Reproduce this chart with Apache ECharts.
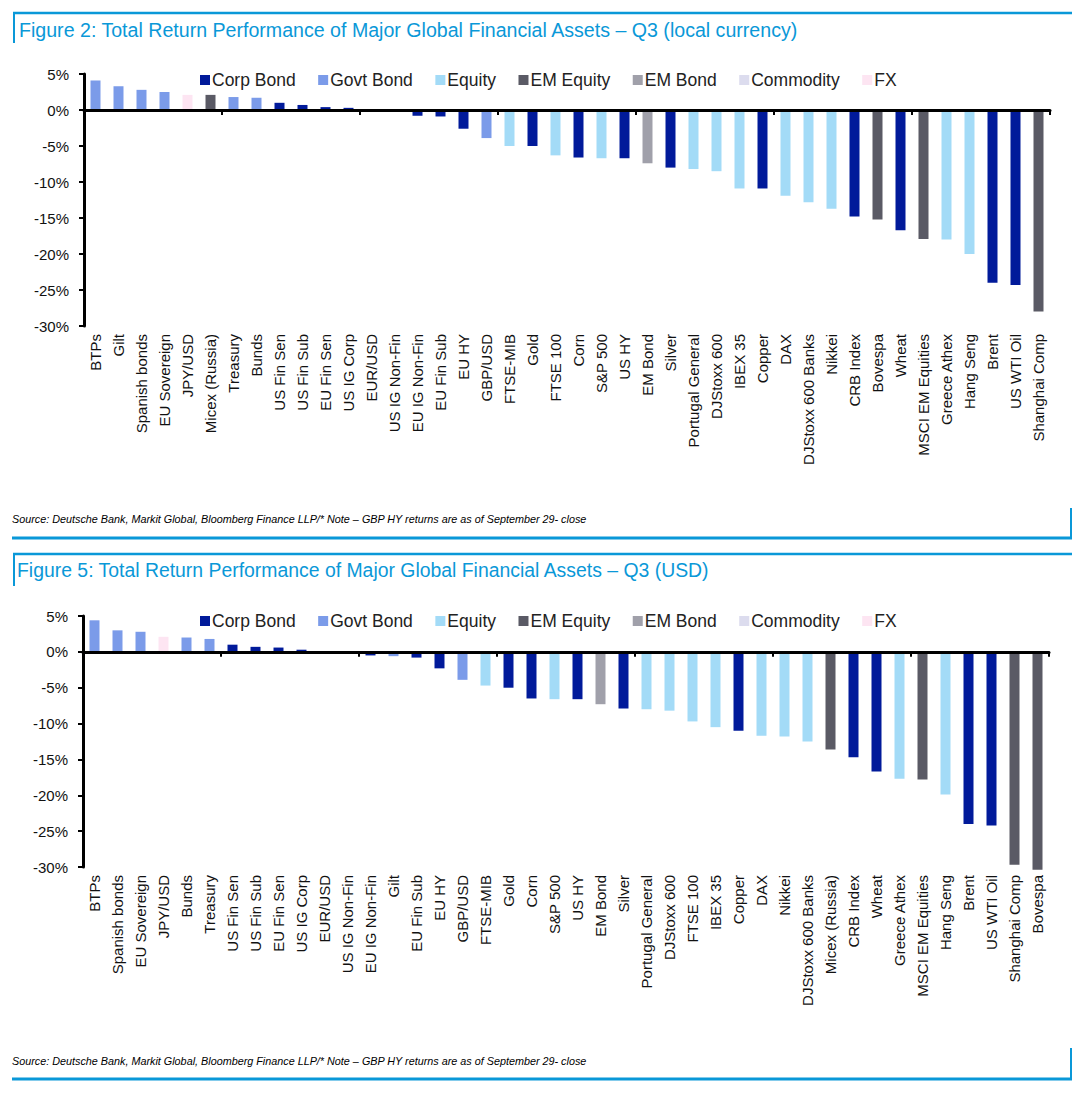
<!DOCTYPE html>
<html><head><meta charset="utf-8">
<script src="https://cdn.jsdelivr.net/npm/echarts@6/dist/echarts.min.js"></script>
<style>html,body{margin:0;padding:0;background:#fff}#c{width:1086px;height:1100px}</style>
</head><body><div id="c"></div>
<script>
// ---------- DATA ----------
const legendNames = ['Corp Bond','Govt Bond','Equity','EM Equity','EM Bond','Commodity','FX'];

const title1 = 'Figure 2: Total Return Performance of Major Global Financial Assets \u2013 Q3 (local currency)';
const title2 = 'Figure 5: Total Return Performance of Major Global Financial Assets \u2013 Q3 (USD)';
const sourceText = 'Source: Deutsche Bank, Markit Global, Bloomberg Finance LLP/* Note \u2013 GBP HY returns are as of September 29- close';

// Figure 2 (local currency)
const cats1 = ['BTPs','Gilt','Spanish bonds','EU Sovereign','JPY/USD','Micex (Russia)','Treasury','Bunds',
  'US Fin Sen','US Fin Sub','EU Fin Sen','US IG Corp','EUR/USD','US IG Non-Fin','EU IG Non-Fin','EU Fin Sub',
  'EU HY','GBP/USD','FTSE-MIB','Gold','FTSE 100','Corn','S&P 500','US HY','EM Bond','Silver',
  'Portugal General','DJStoxx 600','IBEX 35','Copper','DAX','DJStoxx 600 Banks','Nikkei','CRB Index',
  'Bovespa','Wheat','MSCI EM Equities','Greece Athex','Hang Seng','Brent','US WTI Oil','Shanghai Comp'];
const vals1 = [4.1,3.3,2.8,2.5,2.1,2.1,1.8,1.7,
  1.0,0.7,0.4,0.3,0.0,-0.1,-0.8,-0.9,
  -2.6,-3.9,-5.0,-5.0,-6.3,-6.6,-6.7,-6.7,-7.4,-8.0,
  -8.2,-8.5,-10.9,-10.9,-11.9,-12.8,-13.7,-14.8,
  -15.2,-16.7,-17.9,-18.0,-20.0,-24.0,-24.3,-28.0];
const grp1 = ['Govt Bond','Govt Bond','Govt Bond','Govt Bond','FX','EM Equity','Govt Bond','Govt Bond',
  'Corp Bond','Corp Bond','Corp Bond','Corp Bond','FX','Corp Bond','Corp Bond','Corp Bond',
  'Corp Bond','Govt Bond','Equity','Commodity','Equity','Commodity','Equity','Corp Bond','EM Bond','Commodity',
  'Equity','Equity','Equity','Commodity','Equity','Equity','Equity','Commodity',
  'EM Equity','Commodity','EM Equity','Equity','Equity','Commodity','Commodity','EM Equity'];

// Figure 5 (USD)
const cats2 = ['BTPs','Spanish bonds','EU Sovereign','JPY/USD','Bunds','Treasury','US Fin Sen','US Fin Sub',
  'EU Fin Sen','US IG Corp','EUR/USD','US IG Non-Fin','EU IG Non-Fin','Gilt','EU Fin Sub','EU HY',
  'GBP/USD','FTSE-MIB','Gold','Corn','S&P 500','US HY','EM Bond','Silver','Portugal General',
  'DJStoxx 600','FTSE 100','IBEX 35','Copper','DAX','Nikkei','DJStoxx 600 Banks','Micex (Russia)',
  'CRB Index','Wheat','Greece Athex','MSCI EM Equities','Hang Seng','Brent','US WTI Oil','Shanghai Comp','Bovespa'];
const vals2 = [4.4,3.0,2.8,2.1,2.0,1.8,1.0,0.7,
  0.6,0.3,0.0,-0.1,-0.5,-0.6,-0.8,-2.3,
  -3.9,-4.7,-5.0,-6.5,-6.6,-6.6,-7.3,-7.9,-8.0,
  -8.2,-9.7,-10.5,-11.0,-11.7,-11.8,-12.5,-13.6,
  -14.7,-16.7,-17.7,-17.8,-19.9,-24.0,-24.2,-29.7,-30.4];
const grp2 = ['Govt Bond','Govt Bond','Govt Bond','FX','Govt Bond','Govt Bond','Corp Bond','Corp Bond',
  'Corp Bond','Corp Bond','FX','Corp Bond','Corp Bond','Govt Bond','Corp Bond','Corp Bond',
  'Govt Bond','Equity','Commodity','Commodity','Equity','Corp Bond','EM Bond','Commodity','Equity',
  'Equity','Equity','Equity','Commodity','Equity','Equity','Equity','EM Equity',
  'Commodity','Commodity','Equity','EM Equity','Equity','Commodity','Commodity','EM Equity','EM Equity'];

const yMin = -30, yMax = 5, yStep = 5;

// ---------- STYLE ----------
const FONT = "'Liberation Sans', Arial, Helvetica, sans-serif";
const BLUE = '#0a98d8';
const barColor = {
  'Corp Bond':'#011a9a','Govt Bond':'#7b9be9','Equity':'#a3dbf7','EM Equity':'#5a5a65',
  'EM Bond':'#a0a0aa','Commodity':'#011a9a','FX':'#fde5f2'
};
const legendColor = {
  'Corp Bond':'#011a9a','Govt Bond':'#7b9be9','Equity':'#a3dbf7','EM Equity':'#5a5a65',
  'EM Bond':'#a0a0aa','Commodity':'#dcdcee','FX':'#fde5f2'
};

const grids = [
  {left:84, right:36, top:74, height:252},
  {left:83, right:37, top:616, height:251}
];
const legendTops = [66, 607];
const sets = [[cats1,vals1,grp1],[cats2,vals2,grp2]];

const xAxes = [], yAxes = [], series = [], legends = [];
sets.forEach(([cats, vals, grp], g) => {
  xAxes.push({
    gridIndex:g, type:'category', data:cats, position:'bottom',
    axisLine:{show:false, onZero:false}, axisTick:{show:false},
    axisLabel:{rotate:90, interval:0, fontSize:15, fontFamily:FONT, color:'#111', margin:8}
  });
  xAxes.push({
    gridIndex:g, type:'category', data:cats, position:'bottom', z:10,
    axisLine:{show:true, onZero:true, lineStyle:{color:'#000', width:3}},
    axisTick:{show:true, length:5, inside:false, lineStyle:{color:'#000', width:2}},
    axisLabel:{show:false}, splitLine:{show:false}
  });
  yAxes.push({
    gridIndex:g, type:'value', min:yMin, max:yMax, interval:yStep,
    axisLine:{show:true, lineStyle:{color:'#000', width:3}},
    axisTick:{show:true, length:5, lineStyle:{color:'#000', width:2}},
    axisLabel:{formatter:'{value}%', fontSize:15, fontFamily:FONT, color:'#111', margin:15},
    splitLine:{show:false}
  });
  legendNames.forEach(name => {
    series.push({
      name, type:'bar', xAxisIndex:g*2, yAxisIndex:g,
      data: vals.map((v,i) => grp[i] === name ? v : '-'),
      barWidth:10, barGap:'-100%', clip:false,
      itemStyle:{color:barColor[name]}, animation:false
    });
  });
  legends.push({
    left:195, top:legendTops[g], itemWidth:10, itemHeight:10, itemGap:22.5,
    icon:'rect', selectedMode:false,
    textStyle:{fontSize:17.5, fontFamily:FONT, color:'#222', padding:[0,0,0,-3]},
    data: legendNames.map(n => ({name:n, itemStyle:{color:legendColor[n]}}))
  });
});

const graphic = [];
function hline(x1,x2,y,w){graphic.push({type:'line',shape:{x1,y1:y,x2,y2:y},style:{stroke:BLUE,lineWidth:w}});}
function vline(x,y1,y2,w){graphic.push({type:'line',shape:{x1:x,y1,x2:x,y2},style:{stroke:BLUE,lineWidth:w}});}
function txt(t,x,y,size,color,style){graphic.push({type:'text',x,y,style:{text:t,fontSize:size,fontFamily:FONT,fill:color,fontStyle:style||'normal',verticalAlign:'middle'}});}
// Figure 2 frame
hline(13,1072,13,2.5); vline(14,12,43,2);
txt(title1,19,30,19.6,BLUE);
txt(sourceText,12,519,10.8,'#000','italic');
vline(1071,508,538,2); hline(12,1072,538,3);
// Figure 5 frame
hline(13,1072,554,2.5); vline(14,553,586,2);
txt(title2,17,570,19.4,BLUE);
txt(sourceText,12,1061,10.8,'#000','italic');
vline(1071,1048,1079,2); hline(12,1072,1079,3);

const chart = echarts.init(document.getElementById('c'), null, {renderer:'svg'});
chart.setOption({
  animation:false, backgroundColor:'#fff',
  grid:grids, xAxis:xAxes, yAxis:yAxes, series, legend:legends, graphic
});
</script></body></html>
